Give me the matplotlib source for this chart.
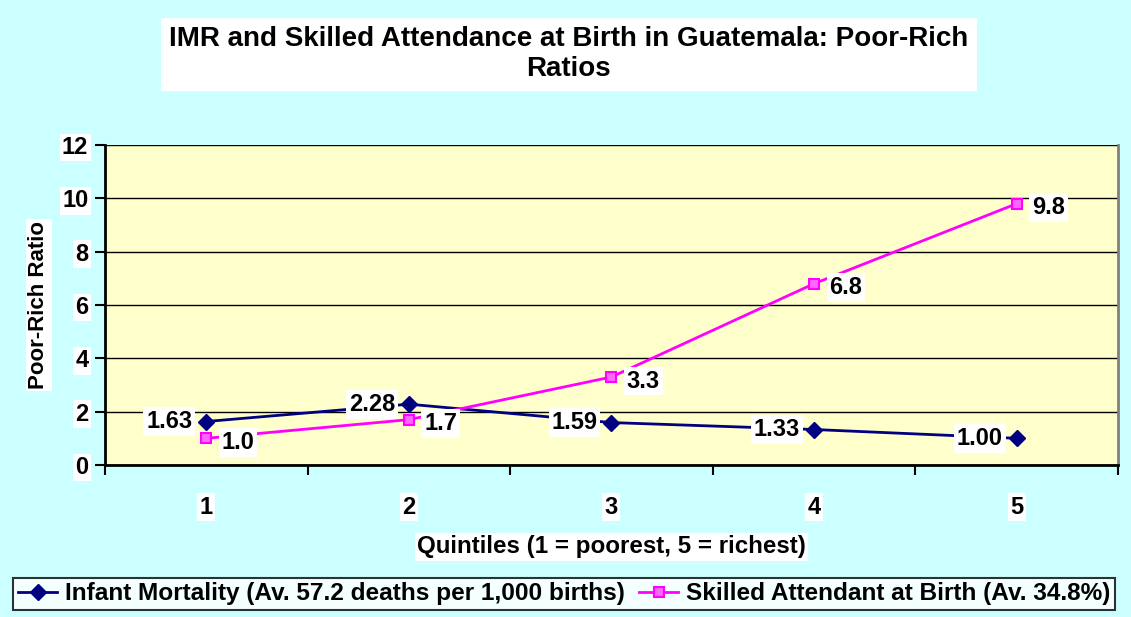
import matplotlib.pyplot as plt

quintiles = [1, 2, 3, 4, 5]
imr = [1.63, 2.28, 1.59, 1.33, 1.00]
sab = [1.0, 1.7, 3.3, 6.8, 9.8]
imr_labels = ['1.63', '2.28', '1.59', '1.33', '1.00']
sab_labels = ['1.0', '1.7', '3.3', '6.8', '9.8']

plt.rcParams['font.family'] = ['Liberation Sans', 'DejaVu Sans']
plt.rcParams['font.weight'] = 'bold'

fig = plt.figure(figsize=(11.31, 6.17), dpi=100, facecolor='#CCFFFF')
ax = fig.add_axes([0.0928, 0.2464, 0.8957, 0.5186])
ax.set_facecolor('#FFFFCC')

l1, = ax.plot(quintiles, imr, color='#000080', lw=2, marker='D', ms=8,
              label='Infant Mortality (Av. 57.2 deaths per 1,000 births)')
l2, = ax.plot(quintiles, sab, color='#FF00FF', lw=2, marker='s', ms=7,
              mfc='#FF66FF', mec='#FF00FF', mew=1.5,
              label='Skilled Attendant at Birth (Av. 34.8%)')

box = dict(boxstyle='square,pad=0.12', fc='white', ec='none')
for x, y, t in zip(quintiles, imr, imr_labels):
    ax.annotate(t, (x, y), xytext=(-10, 0), textcoords='offset points',
                ha='right', va='center', fontsize=17, fontweight='bold', bbox=box)
for x, y, t in zip(quintiles, sab, sab_labels):
    ax.annotate(t, (x, y), xytext=(11, -3), textcoords='offset points',
                ha='left', va='center', fontsize=17, fontweight='bold', bbox=box)

ax.set_xlim(0.5, 5.5)
ax.set_ylim(0, 12)
ax.set_yticks(range(0, 13, 2))
ax.yaxis.grid(True, color='black', lw=1)
ax.set_axisbelow(True)
ax.set_xticks(quintiles)
ax.set_xticks([0.5, 1.5, 2.5, 3.5, 4.5, 5.5], minor=True)
ax.tick_params(axis='x', which='major', length=0, pad=22, labelsize=17)
ax.tick_params(axis='x', which='minor', length=7, width=1.5, direction='out')
ax.tick_params(axis='y', length=7, width=1.5, labelsize=17, pad=5)
tick_box = dict(boxstyle='square,pad=0.1', fc='white', ec='none')
for lab in ax.get_xticklabels() + ax.get_yticklabels():
    lab.set_bbox(tick_box)
for s in ['left', 'bottom']:
    ax.spines[s].set_linewidth(2)
ax.spines['top'].set_visible(False)
ax.spines['right'].set_color('#808080')
ax.spines['right'].set_linewidth(2)

ax.set_ylabel('Poor-Rich Ratio', fontsize=16, fontweight='bold', labelpad=9,
              bbox=tick_box)
ax.set_xlabel('Quintiles (1 = poorest, 5 = richest)', fontsize=17.4,
              fontweight='bold', labelpad=12, bbox=tick_box)

fig.text(0.503, 0.912, 'IMR and Skilled Attendance at Birth in Guatemala: Poor-Rich\nRatios',
         ha='center', va='center', fontsize=20, fontweight='bold', linespacing=1.2,
         bbox=dict(boxstyle='square,pad=0.3', fc='white', ec='none'))

leg = fig.legend(handles=[l1, l2], loc='center', bbox_to_anchor=(0.4987, 0.0373),
                 ncol=2, fontsize=17.6, frameon=True, fancybox=False,
                 edgecolor='black', handlelength=1.6, columnspacing=0.6,
                 handletextpad=0.3, borderpad=0.2, borderaxespad=0)
leg.get_frame().set_linewidth(1.5)
leg.get_frame().set_facecolor('white')

fig.savefig('out.png', dpi=100, facecolor=fig.get_facecolor())
